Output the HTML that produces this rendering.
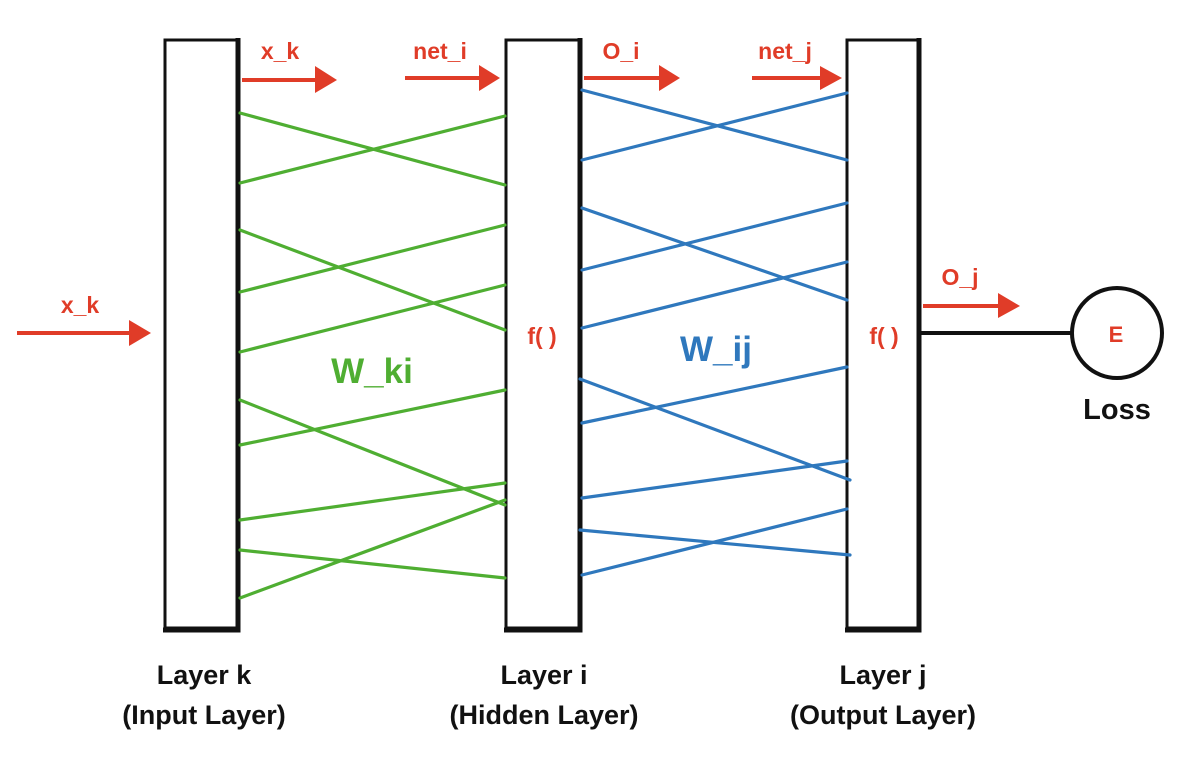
<!DOCTYPE html>
<html><head><meta charset="utf-8"><style>
html,body{margin:0;padding:0;background:#fff;}
svg{display:block;}
text{font-family:"Liberation Sans",sans-serif;font-weight:bold;}
</style></head><body>
<svg width="1196" height="758" viewBox="0 0 1196 758" xmlns="http://www.w3.org/2000/svg">
<!-- boxes -->
<g fill="none" stroke="#111" stroke-linejoin="miter">
<rect x="165" y="40" width="73" height="588" stroke-width="3"/>
<path d="M238,38 V630 H163" stroke-width="5"/>
<rect x="506" y="40" width="73" height="588" stroke-width="3"/>
<path d="M580,38 V630 H504" stroke-width="5"/>
<rect x="847" y="40" width="71" height="588" stroke-width="3"/>
<path d="M919,38 V630 H845" stroke-width="5"/>
</g>
<!-- green lines -->
<g stroke="#4fae32" stroke-width="3.2" stroke-linecap="round">
<line x1="240" y1="113" x2="505" y2="185"/>
<line x1="240" y1="183" x2="505" y2="116"/>
<line x1="240" y1="230" x2="505" y2="330"/>
<line x1="240" y1="292" x2="505" y2="225"/>
<line x1="240" y1="352" x2="505" y2="285"/>
<line x1="240" y1="400" x2="505" y2="505"/>
<line x1="240" y1="445" x2="505" y2="390"/>
<line x1="240" y1="520" x2="505" y2="483"/>
<line x1="240" y1="550" x2="505" y2="578"/>
<line x1="240" y1="598" x2="505" y2="500"/>
</g>
<!-- blue lines -->
<g stroke="#2f78bd" stroke-width="3.2" stroke-linecap="round">
<line x1="582" y1="90" x2="847" y2="160"/>
<line x1="582" y1="160" x2="847" y2="93"/>
<line x1="582" y1="208" x2="847" y2="300"/>
<line x1="582" y1="270" x2="847" y2="203"/>
<line x1="582" y1="328" x2="847" y2="262"/>
<line x1="580" y1="379" x2="850" y2="480"/>
<line x1="582" y1="423" x2="847" y2="367"/>
<line x1="582" y1="498" x2="847" y2="461"/>
<line x1="580" y1="530" x2="850" y2="555"/>
<line x1="582" y1="575" x2="847" y2="509"/>
</g>
<!-- red arrows -->
<g stroke="#e03c28" stroke-width="4" fill="#e03c28">
<line x1="242" y1="80" x2="318" y2="80"/><polygon points="315,66 337,80 315,93" stroke="none"/>
<line x1="405" y1="78" x2="482" y2="78"/><polygon points="479,65 500,78 479,91" stroke="none"/>
<line x1="584" y1="78" x2="662" y2="78"/><polygon points="659,65 680,78 659,91" stroke="none"/>
<line x1="752" y1="78" x2="824" y2="78"/><polygon points="820,66 842,78 820,90" stroke="none"/>
<line x1="17" y1="333" x2="132" y2="333"/><polygon points="129,320 151,333 129,346" stroke="none"/>
<line x1="923" y1="306" x2="1002" y2="306"/><polygon points="998,293 1020,306 998,318" stroke="none"/>
</g>
<!-- loss -->
<line x1="919" y1="333" x2="1072" y2="333" stroke="#111" stroke-width="4"/>
<circle cx="1117" cy="333" r="45" fill="none" stroke="#111" stroke-width="4"/>
<!-- red labels -->
<g fill="#e03c28" font-size="23" text-anchor="middle">
<text x="280" y="59">x_k</text>
<text x="440" y="59">net_i</text>
<text x="621" y="59">O_i</text>
<text x="785" y="59">net_j</text>
<text x="80" y="313">x_k</text>
<text x="960" y="285">O_j</text>
<text x="542" y="344">f( )</text>
<text x="884" y="344">f( )</text>
<text x="1116" y="342" font-size="22">E</text>
</g>
<text x="372" y="383" fill="#4fae32" font-size="35" text-anchor="middle">W_ki</text>
<text x="716" y="361" fill="#2f78bd" font-size="35" text-anchor="middle">W_ij</text>
<g fill="#111" font-size="27" text-anchor="middle">
<text x="1117" y="419" font-size="29">Loss</text>
<text x="204" y="684">Layer k</text>
<text x="204" y="724">(Input Layer)</text>
<text x="544" y="684">Layer i</text>
<text x="544" y="724">(Hidden Layer)</text>
<text x="883" y="684">Layer j</text>
<text x="883" y="724">(Output Layer)</text>
</g>
</svg>
</body></html>
